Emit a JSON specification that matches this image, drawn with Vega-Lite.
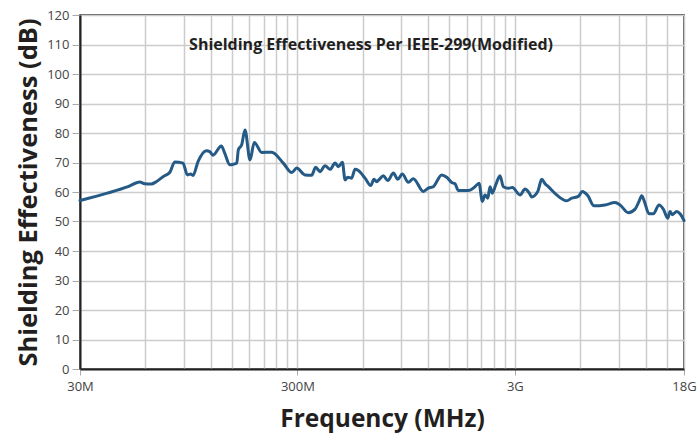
{
  "$schema": "https://vega.github.io/schema/vega-lite/v6.json",
  "width": 604,
  "height": 354,
  "autosize": "none",
  "padding": {"left": 80, "top": 15, "right": 13, "bottom": 65},
  "background": "white",
  "config": {
    "view": {"stroke": "#222222", "strokeWidth": 1.5},
    "font": "Open Sans"
  },
  "title": {
    "text": "Shielding Effectiveness Per IEEE-299(Modified)",
    "font": "Open Sans",
    "fontSize": 16,
    "fontWeight": "bold",
    "color": "#231f20",
    "offset": -44,
    "dx": -11
  },
  "data": {
    "values": [
      {"f": 30, "se": 57.1},
      {"f": 40, "se": 59.6},
      {"f": 49.9, "se": 61.8},
      {"f": 56.5, "se": 63.4},
      {"f": 59.5, "se": 62.8},
      {"f": 63.8, "se": 62.7},
      {"f": 67.3, "se": 63.5},
      {"f": 72.3, "se": 65.2},
      {"f": 77.6, "se": 66.6},
      {"f": 81.8, "se": 70.2},
      {"f": 89.3, "se": 69.8},
      {"f": 93.5, "se": 65.8},
      {"f": 96.9, "se": 66.1},
      {"f": 99.3, "se": 65.6},
      {"f": 104.7, "se": 70.3},
      {"f": 114.3, "se": 74.0},
      {"f": 118.5, "se": 73.7},
      {"f": 122.7, "se": 72.5},
      {"f": 134, "se": 75.6},
      {"f": 138.9, "se": 73.2},
      {"f": 146.5, "se": 69.2},
      {"f": 152.2, "se": 69.4},
      {"f": 157.8, "se": 69.8},
      {"f": 160.5, "se": 74.3},
      {"f": 166.3, "se": 76.0},
      {"f": 172.2, "se": 81.0},
      {"f": 181.6, "se": 70.9},
      {"f": 190, "se": 76.8},
      {"f": 205.6, "se": 73.4},
      {"f": 228.5, "se": 73.5},
      {"f": 258.3, "se": 69.8},
      {"f": 282.4, "se": 66.6},
      {"f": 297.8, "se": 68.1},
      {"f": 325.2, "se": 65.8},
      {"f": 349, "se": 65.7},
      {"f": 364, "se": 68.4},
      {"f": 381, "se": 66.9},
      {"f": 402, "se": 68.9},
      {"f": 424, "se": 67.7},
      {"f": 447, "se": 69.8},
      {"f": 463, "se": 68.6},
      {"f": 483, "se": 70.1},
      {"f": 497, "se": 64.1},
      {"f": 511, "se": 65.0},
      {"f": 533, "se": 64.7},
      {"f": 552, "se": 67.7},
      {"f": 572, "se": 67.3},
      {"f": 614, "se": 64.7},
      {"f": 652, "se": 62.2},
      {"f": 675, "se": 64.3},
      {"f": 695, "se": 63.5},
      {"f": 714, "se": 64.3},
      {"f": 745, "se": 65.5},
      {"f": 781, "se": 63.9},
      {"f": 829, "se": 66.4},
      {"f": 868, "se": 64.3},
      {"f": 911, "se": 66.1},
      {"f": 971, "se": 63.3},
      {"f": 1024, "se": 64.5},
      {"f": 1138, "se": 60.2},
      {"f": 1200, "se": 61.3},
      {"f": 1265, "se": 61.8},
      {"f": 1383, "se": 65.8},
      {"f": 1458, "se": 65.0},
      {"f": 1538, "se": 63.2},
      {"f": 1592, "se": 62.8},
      {"f": 1649, "se": 60.5},
      {"f": 1834, "se": 60.5},
      {"f": 1968, "se": 61.8},
      {"f": 2053, "se": 63.0},
      {"f": 2127, "se": 56.8},
      {"f": 2188, "se": 59.0},
      {"f": 2252, "se": 57.9},
      {"f": 2307, "se": 61.8},
      {"f": 2364, "se": 59.6},
      {"f": 2450, "se": 62.4},
      {"f": 2565, "se": 65.5},
      {"f": 2656, "se": 61.8},
      {"f": 2800, "se": 61.3},
      {"f": 2922, "se": 61.5},
      {"f": 3171, "se": 59.0},
      {"f": 3343, "se": 61.0},
      {"f": 3498, "se": 59.6},
      {"f": 3588, "se": 58.3},
      {"f": 3826, "se": 60.2},
      {"f": 3990, "se": 64.3},
      {"f": 4132, "se": 62.8},
      {"f": 4278, "se": 61.8},
      {"f": 4675, "se": 59.0},
      {"f": 5199, "se": 57.0},
      {"f": 5482, "se": 57.9},
      {"f": 5879, "se": 58.5},
      {"f": 6133, "se": 60.2},
      {"f": 6492, "se": 58.8},
      {"f": 6939, "se": 55.3},
      {"f": 7800, "se": 55.6},
      {"f": 8671, "se": 56.4},
      {"f": 9145, "se": 55.6},
      {"f": 9985, "se": 53.0},
      {"f": 10720, "se": 54.2},
      {"f": 11180, "se": 56.8},
      {"f": 11505, "se": 58.7},
      {"f": 11827, "se": 56.8},
      {"f": 12430, "se": 52.6},
      {"f": 13010, "se": 52.6},
      {"f": 13820, "se": 55.6},
      {"f": 14460, "se": 54.2},
      {"f": 15150, "se": 51.1},
      {"f": 15525, "se": 53.4},
      {"f": 15910, "se": 52.3},
      {"f": 16670, "se": 53.4},
      {"f": 17260, "se": 52.6},
      {"f": 18000, "se": 50.3}
    ]
  },
  "mark": {"type": "line", "color": "#245a85", "strokeWidth": 3, "strokeJoin": "round", "strokeCap": "round", "interpolate": "monotone"},
  "encoding": {
    "x": {
      "field": "f",
      "type": "quantitative",
      "scale": {"type": "log", "domain": [30, 18000], "nice": false},
      "axis": {
        "values": [30, 60, 90, 120, 150, 180, 210, 240, 270, 300, 600, 900, 1200, 1500, 1800, 2100, 2400, 2700, 3000, 6000, 9000, 12000, 15000, 18000],
        "labelExpr": "datum.value == 30 ? '30M' : datum.value == 300 ? '300M' : datum.value == 3000 ? '3G' : datum.value == 18000 ? '18G' : ''",
        "labelOverlap": false,
        "labelFlush": false,
        "grid": true,
        "gridColor": "#cccccc",
        "gridWidth": 1.5,
        "tickSize": 6,
        "tickColor": "#aaaaaa",
        "tickWidth": 1,
        "tickOpacity": {"condition": {"test": "datum.value == 30 || datum.value == 300 || datum.value == 3000 || datum.value == 18000", "value": 1}, "value": 0},
        "domainColor": "#222222",
        "domainWidth": 2,
        "labelFont": "Open Sans",
        "labelFontSize": 13,
        "labelColor": "#444444",
        "labelPadding": 5,
        "title": "Frequency (MHz)",
        "titleFont": "Open Sans",
        "titleFontSize": 24.5,
        "titleFontWeight": "bold",
        "titleColor": "#231f20",
        "titlePadding": 14
      }
    },
    "y": {
      "field": "se",
      "type": "quantitative",
      "scale": {"domain": [0, 120], "nice": false},
      "axis": {
        "values": [0, 10, 20, 30, 40, 50, 60, 70, 80, 90, 100, 110, 120],
        "grid": true,
        "gridColor": "#cccccc",
        "gridWidth": 1.5,
        "tickSize": 8,
        "tickColor": "#aaaaaa",
        "domainColor": "#222222",
        "domainWidth": 2,
        "labelFont": "Open Sans",
        "labelFontSize": 13,
        "labelColor": "#444444",
        "labelPadding": 3,
        "title": "Shielding Effectiveness (dB)",
        "titleFont": "Open Sans",
        "titleFontSize": 25.5,
        "titleFontWeight": "bold",
        "titleColor": "#231f20",
        "titlePadding": 5
      }
    }
  }
}
